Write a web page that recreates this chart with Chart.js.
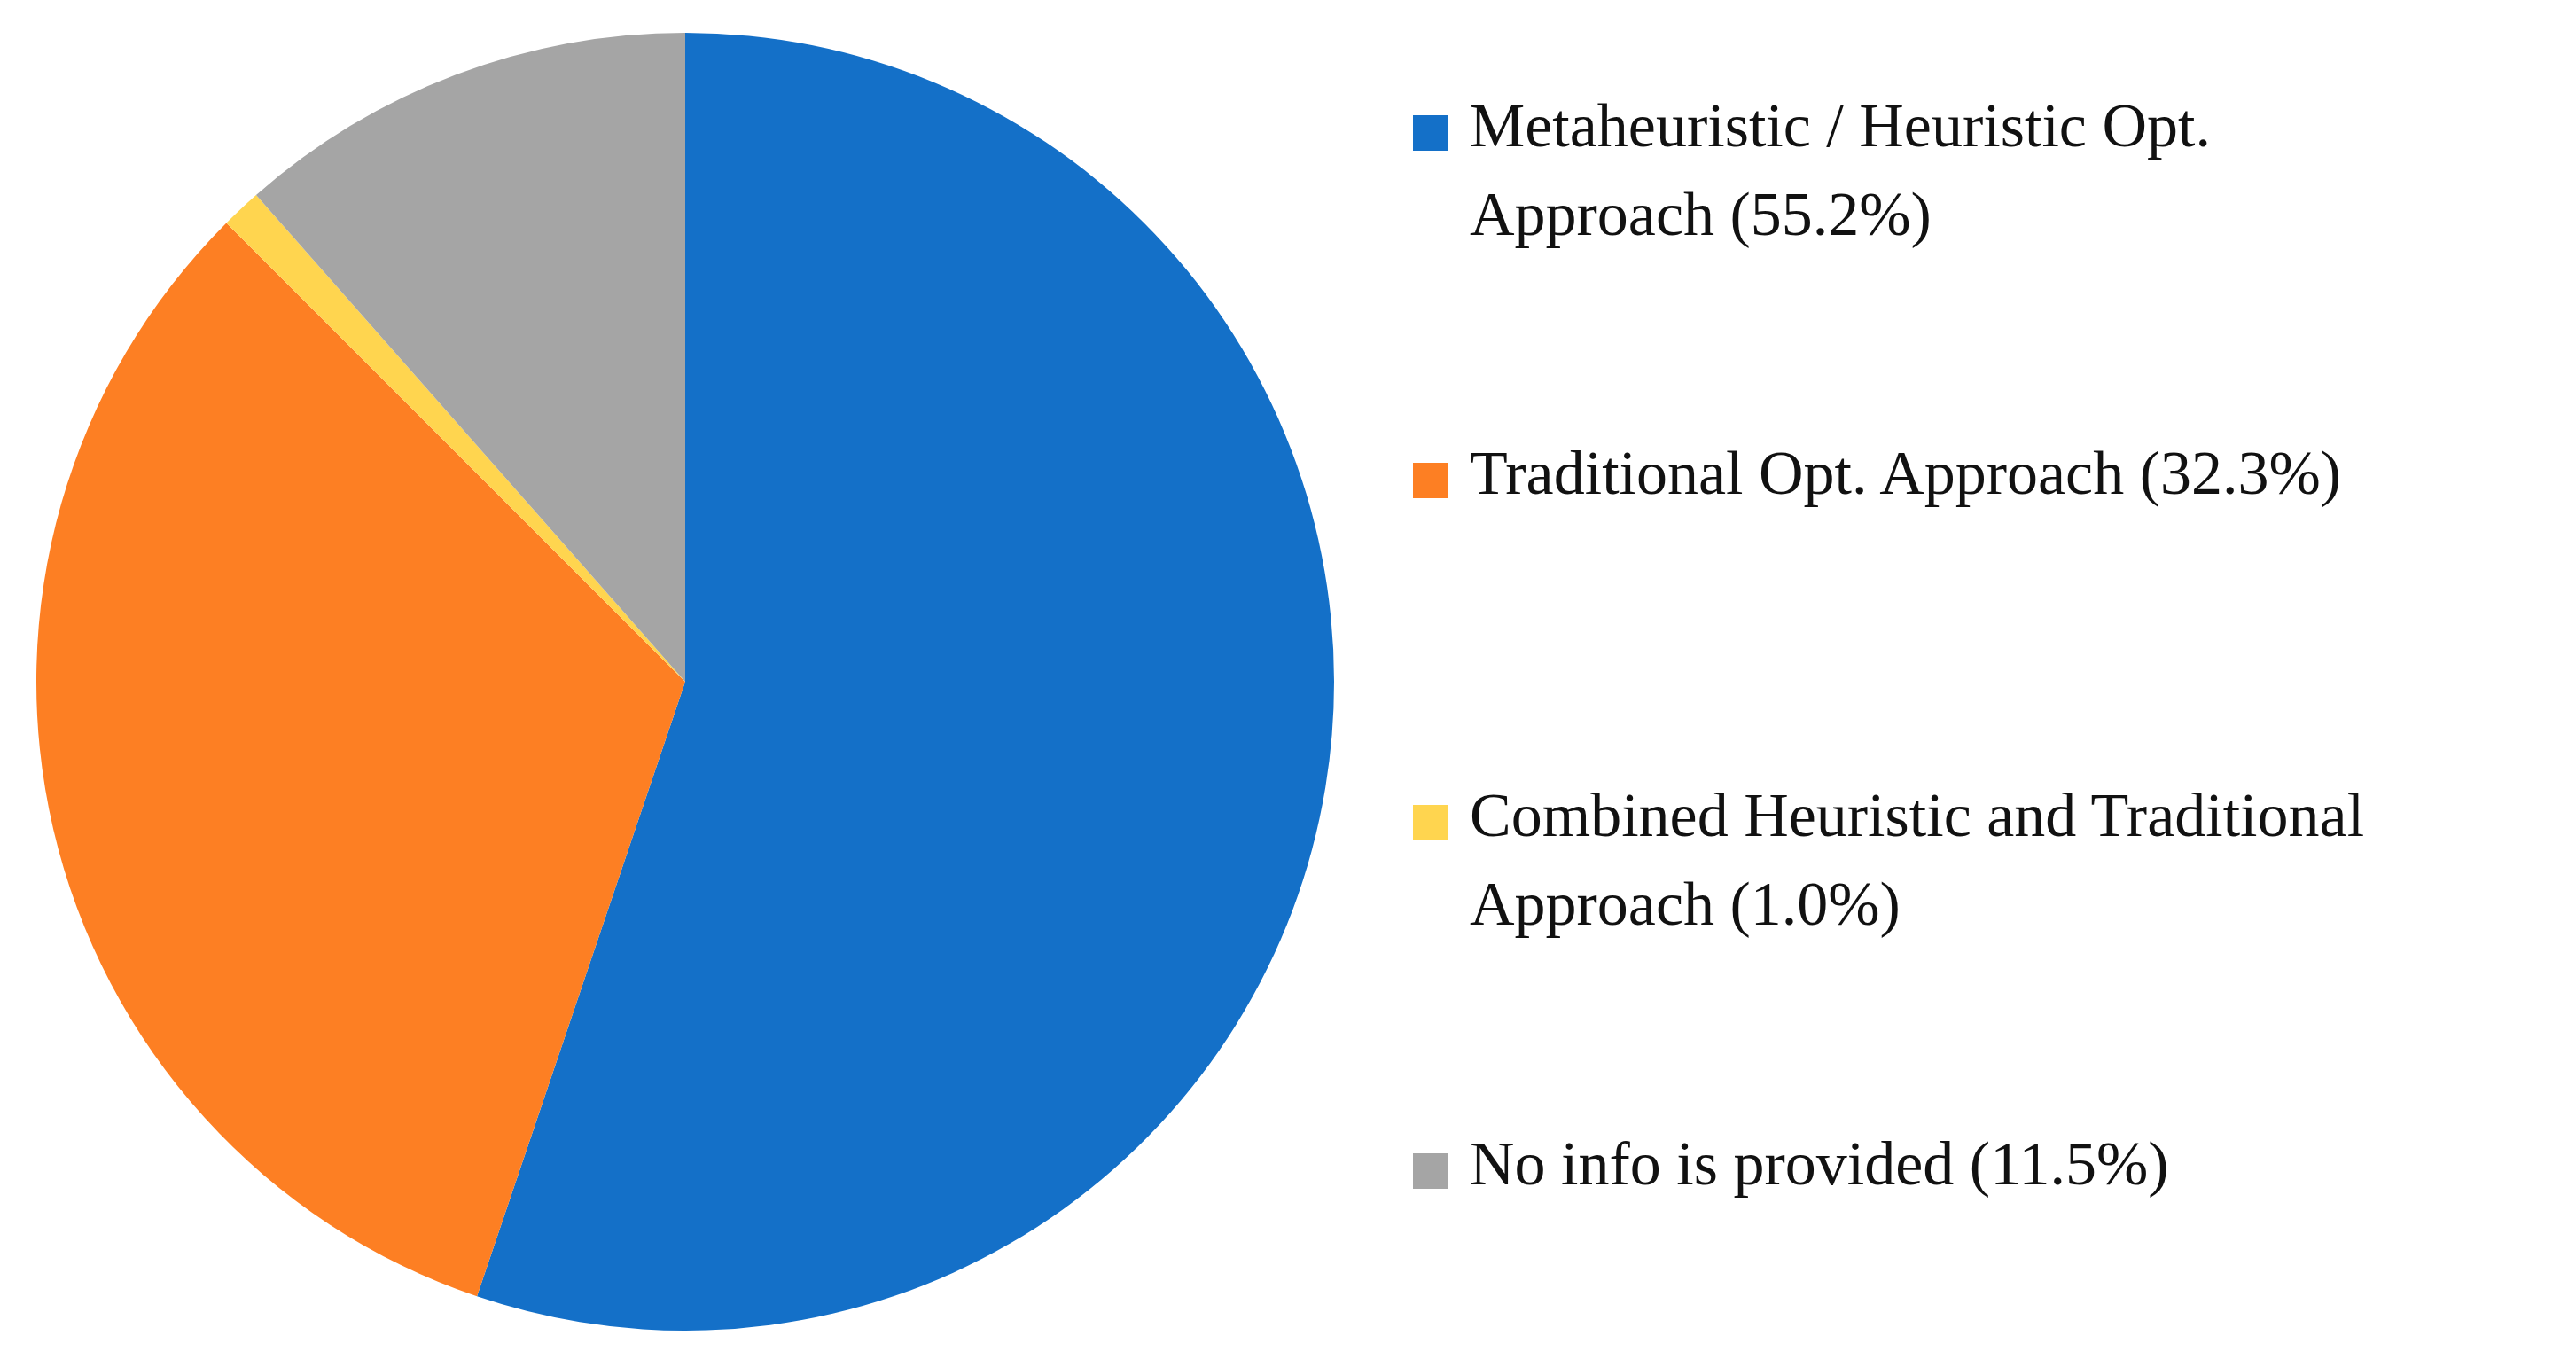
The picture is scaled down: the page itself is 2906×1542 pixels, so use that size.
<!DOCTYPE html>
<html>
<head>
<meta charset="utf-8">
<script src="https://cdn.jsdelivr.net/npm/chart.js@4"></script>
<style>
  body { margin: 0; width: 2906px; height: 1542px; background: #fff; position: relative; overflow: hidden; }
  #wrap { position: absolute; left: 41px; top: 37px; width: 1464px; height: 1464px; }
  #legend { position: absolute; left: 1594px; top: 0; font-family: "Liberation Serif", "DejaVu Serif", serif; font-size: 70px; color: #111; }
  .item { position: absolute; left: 0; white-space: nowrap; line-height: 100px; }
  .sw { position: absolute; left: 0; top: 38px; width: 40px; height: 40px; }
  .txt { margin-left: 64px; }
</style>
</head>
<body>
<div id="wrap"><canvas id="chart"></canvas></div>
<div id="legend"></div>
<script>
const labels = ['Metaheuristic / Heuristic Opt.<br>Approach (55.2%)', 'Traditional Opt. Approach (32.3%)', 'Combined Heuristic and Traditional<br>Approach (1.0%)', 'No info is provided (11.5%)'];
const values = [55.2, 32.3, 1.0, 11.5];
const colors = ['#1470c8', '#fd7f23', '#ffd54f', '#a5a5a5'];
const legendTops = [92, 484, 870, 1263];

const chart = document.querySelector('#chart').getContext('2d');

new Chart(chart, {
    type: 'pie',
    data: {
        labels: labels,
        datasets: [{
            data: values,
            backgroundColor: colors,
            borderWidth: 0
        }]
    },
    options: {
        responsive: true,
        maintainAspectRatio: false,
        animation: false,
        plugins: {
            legend: { display: false },
            tooltip: { enabled: false }
        }
    }
});

// legend as plain text next to the pie
const legend = document.querySelector('#legend');
labels.forEach((l, i) => {
    const d = document.createElement('div');
    d.className = 'item';
    d.style.top = legendTops[i] + 'px';
    d.innerHTML = '<span class="sw" style="background:' + colors[i] + '"></span><div class="txt">' + l + '</div>';
    legend.appendChild(d);
});
</script>
</body>
</html>
